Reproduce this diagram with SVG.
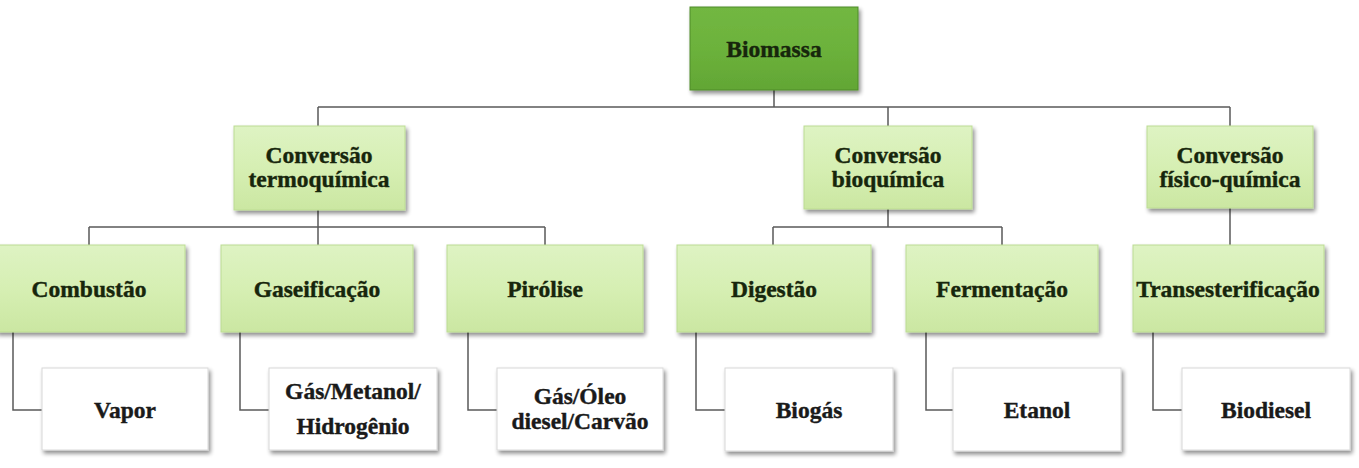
<svg xmlns="http://www.w3.org/2000/svg" width="1359" height="468" viewBox="0 0 1359 468">
<defs>
<linearGradient id="gLight" x1="0" y1="0" x2="0" y2="1">
<stop offset="0" stop-color="#def3c3"/>
<stop offset="0.5" stop-color="#d6efb3"/>
<stop offset="1" stop-color="#cbe7a2"/>
</linearGradient>
<linearGradient id="gDark" x1="0" y1="0" x2="0" y2="1">
<stop offset="0" stop-color="#72b742"/>
<stop offset="0.5" stop-color="#6cb23b"/>
<stop offset="1" stop-color="#62a635"/>
</linearGradient>
<filter id="sh" x="-10%" y="-10%" width="125%" height="130%">
<feGaussianBlur in="SourceAlpha" stdDeviation="2"/>
<feOffset dx="2" dy="3" result="b"/>
<feComponentTransfer><feFuncA type="linear" slope="0.45"/></feComponentTransfer>
<feMerge><feMergeNode/><feMergeNode in="SourceGraphic"/></feMerge>
</filter>
</defs>
<style>
.light{fill:url(#gLight);stroke:#bcdc93;stroke-width:1;filter:url(#sh)}
.dark{fill:url(#gDark);stroke:#4f8c28;stroke-width:1;filter:url(#sh)}
.white{fill:#ffffff;stroke:#d8d8d8;stroke-width:1;filter:url(#sh)}
.t{font-family:"Liberation Serif","Times New Roman",serif;font-weight:bold;font-size:23.5px;text-anchor:middle;stroke-width:0.4}
.tg{fill:#17260c;stroke:#17260c}
.tw{fill:#1a1a1a;stroke:#1a1a1a}
.c{fill:none;stroke:#5a5a5a;stroke-width:1.5}
</style>
<g id="connectors">
<path class="c" d="M774 90 V107 M318 107 H1230 M318 107 V126 M888 107 V126 M1230 107 V126"/>
<path class="c" d="M318 210 V227 M89 227 H545 M89 227 V245 M318 227 V245 M545 227 V245"/>
<path class="c" d="M888 209 V227 M773 227 H1002 M773 227 V245 M1002 227 V245"/>
<path class="c" d="M1230 208 V245"/>
<path class="c" d="M13 332 V410 H42 M240 332 V410 H269 M468 332 V410 H497 M696 332 V410 H725 M926 332 V410 H953 M1153 332 V410 H1182"/>
</g>
<g id="biomassa"><rect class="dark" x="690" y="7" width="168" height="83"/><text class="t tg" x="774" y="57">Biomassa</text></g>
<g id="termoquimica"><rect class="light" x="234" y="126" width="171" height="84"/><text class="t tg" x="319" y="163">Conversão</text><text class="t tg" x="319" y="187">termoquímica</text></g>
<g id="bioquimica"><rect class="light" x="804" y="126" width="168" height="83"/><text class="t tg" x="888" y="163">Conversão</text><text class="t tg" x="888" y="187">bioquímica</text></g>
<g id="fisicoquimica"><rect class="light" x="1147" y="126" width="166" height="82"/><text class="t tg" x="1230" y="163">Conversão</text><text class="t tg" x="1230" y="187">físico-química</text></g>
<g id="combustao"><rect class="light" x="-4" y="245" width="189" height="87"/><text class="t tg" x="89" y="297">Combustão</text></g>
<g id="gaseificacao"><rect class="light" x="221" y="245" width="192" height="87"/><text class="t tg" x="317" y="297">Gaseificação</text></g>
<g id="pirolise"><rect class="light" x="447" y="245" width="196" height="87"/><text class="t tg" x="545" y="297">Pirólise</text></g>
<g id="digestao"><rect class="light" x="677" y="245" width="194" height="87"/><text class="t tg" x="774" y="297">Digestão</text></g>
<g id="fermentacao"><rect class="light" x="906" y="245" width="192" height="87"/><text class="t tg" x="1002" y="297">Fermentação</text></g>
<g id="transesterificacao"><rect class="light" x="1133" y="245" width="191" height="87"/><text class="t tg" x="1228" y="297">Transesterificação</text></g>
<g id="vapor"><rect class="white" x="42" y="368" width="166" height="82"/><text class="t tw" x="125" y="418">Vapor</text></g>
<g id="gas-metanol"><rect class="white" x="269" y="368" width="168" height="82"/><text class="t tw" x="353" y="399">Gás/Metanol/</text><text class="t tw" x="353" y="434">Hidrogênio</text></g>
<g id="gas-oleo"><rect class="white" x="497" y="368" width="166" height="82"/><text class="t tw" x="580" y="404">Gás/Óleo</text><text class="t tw" x="580" y="429">diesel/Carvão</text></g>
<g id="biogas"><rect class="white" x="725" y="368" width="168" height="83"/><text class="t tw" x="809" y="418">Biogás</text></g>
<g id="etanol"><rect class="white" x="953" y="368" width="168" height="83"/><text class="t tw" x="1037" y="418">Etanol</text></g>
<g id="biodiesel"><rect class="white" x="1182" y="368" width="168" height="82"/><text class="t tw" x="1266" y="418">Biodiesel</text></g>
</svg>
